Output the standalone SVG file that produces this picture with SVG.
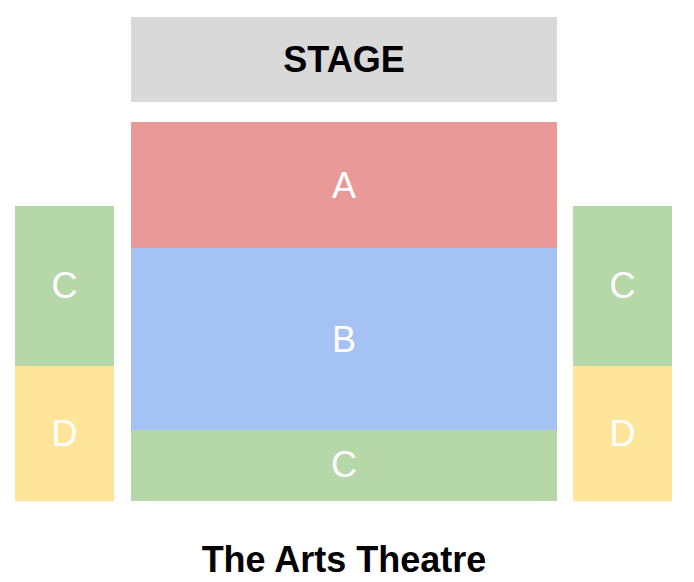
<svg xmlns="http://www.w3.org/2000/svg" width="694" height="582" viewBox="0 0 694 582">
<style>
.lbl{font-family:"Liberation Sans",Arial,sans-serif;font-size:36px;fill:#ffffff;text-anchor:middle}
.bold{font-family:"Liberation Sans",Arial,sans-serif;font-size:36px;font-weight:bold;fill:#000000;text-anchor:middle}
.a{fill:#ea9999}.b{fill:#a4c2f4}.c{fill:#b6d7a8}.d{fill:#ffe599}.s{fill:#d9d9d9}
</style>
<rect width="694" height="582" fill="#ffffff"/>
<g id="stage"><rect class="s" x="131" y="17" width="426" height="85"/><text class="bold" x="344" y="72">STAGE</text></g>
<g id="section-a"><rect class="a" x="131" y="122" width="426" height="126"/><text class="lbl" x="344" y="198">A</text></g>
<g id="section-b"><rect class="b" x="131" y="248" width="426" height="182"/><text class="lbl" x="344" y="352">B</text></g>
<g id="section-c-center"><rect class="c" x="131" y="430" width="426" height="71"/><text class="lbl" x="344" y="477">C</text></g>
<g id="section-c-left"><rect class="c" x="15" y="206" width="99" height="160"/><text class="lbl" x="64.5" y="298">C</text></g>
<g id="section-d-left"><rect class="d" x="15" y="366" width="99" height="135"/><text class="lbl" x="64.5" y="446">D</text></g>
<g id="section-c-right"><rect class="c" x="573" y="206" width="99" height="160"/><text class="lbl" x="622.5" y="298">C</text></g>
<g id="section-d-right"><rect class="d" x="573" y="366" width="99" height="135"/><text class="lbl" x="622.5" y="446">D</text></g>
<g id="title"><text class="bold" x="344" y="572">The Arts Theatre</text></g>
</svg>
